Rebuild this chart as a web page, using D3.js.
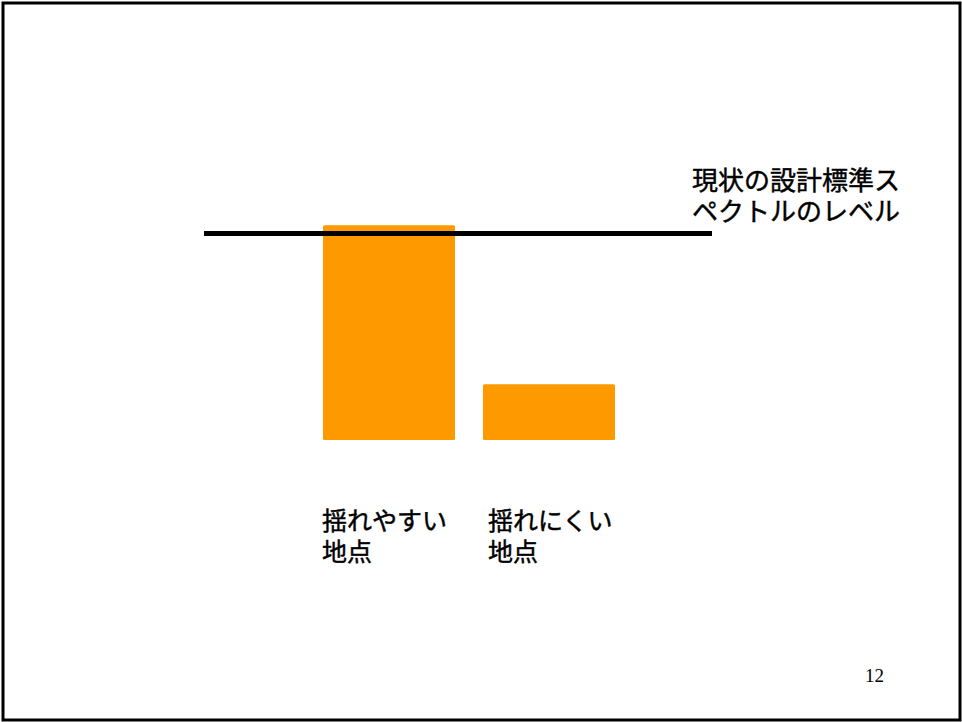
<!DOCTYPE html>
<html>
<head>
<meta charset="utf-8">
<script src="https://cdn.jsdelivr.net/npm/d3@7"></script>
<style>
  html, body { margin: 0; padding: 0; background: #fff; }
  svg { display: block; }
</style>
</head>
<body>
<script>
// Ground-motion level at two kinds of sites, relative to the current design spectrum
const categories = ["揺れやすい\n地点", "揺れにくい\n地点"];
const values = [1.04, 0.27];
const referenceLevel = 1.0;
const referenceLabel = ["現状の設計標準ス", "ペクトルのレベル"];
const pageNumber = "12";

const W = 962, H = 722;
const svg = d3.select("body").append("svg").attr("width", W).attr("height", H);

// slide frame
svg.append("rect").attr("x", 0).attr("y", 0).attr("width", W).attr("height", H).attr("fill", "#fff");
svg.append("rect")
  .attr("x", 3).attr("y", 3).attr("width", W - 5).attr("height", H - 5)
  .attr("fill", "none").attr("stroke", "#000").attr("stroke-width", 3);

const font = "'Noto Sans CJK JP', sans-serif";

// scales
const x = d3.scaleBand().domain(categories).range([323, 615]).paddingInner(0.175).paddingOuter(0);
const y = d3.scaleLinear().domain([0, 1]).range([440, 233.5]);

// bars
svg.append("g").selectAll("rect").data(categories).join("rect")
  .attr("x", d => x(d))
  .attr("width", x.bandwidth())
  .attr("y", (d, i) => y(values[i]))
  .attr("height", (d, i) => y(0) - y(values[i]))
  .attr("rx", 1.5)
  .attr("fill", "#FF9900");

// reference level line
svg.append("line")
  .attr("x1", 204).attr("x2", 712)
  .attr("y1", y(referenceLevel)).attr("y2", y(referenceLevel))
  .attr("stroke", "#000").attr("stroke-width", 5);

// reference label
const refText = svg.append("text")
  .attr("x", 692).attr("y", 190)
  .attr("font-family", font).attr("font-size", 26)
  .attr("fill", "#000").attr("stroke", "#000").attr("stroke-width", 0.45);
refText.selectAll("tspan").data(referenceLabel).join("tspan")
  .attr("x", 692).attr("dy", (d, i) => i === 0 ? 0 : 31)
  .text(d => d);

// category labels below the bars
const labelShift = [-1, 5];
svg.append("g").selectAll("text").data(categories).join("text")
  .attr("y", 530)
  .attr("font-family", font).attr("font-size", 25)
  .attr("fill", "#000").attr("stroke", "#000").attr("stroke-width", 0.45)
  .each(function(d, i) {
    d3.select(this).selectAll("tspan").data(d.split("\n")).join("tspan")
      .attr("x", x(d) + labelShift[i])
      .attr("dy", (t, j) => j === 0 ? 0 : 31)
      .text(t => t);
  });

// page number
svg.append("text")
  .attr("x", 865).attr("y", 682)
  .attr("font-family", "'Liberation Serif', serif").attr("font-size", 19)
  .attr("fill", "#000")
  .text(pageNumber);
</script>
</body>
</html>
